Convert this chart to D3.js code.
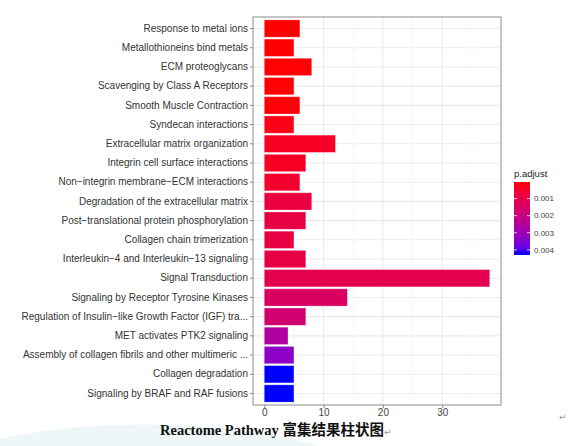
<!DOCTYPE html>
<html>
<head>
<meta charset="utf-8">
<script src="https://cdn.jsdelivr.net/npm/d3@7"></script>
<style>
  html, body { margin: 0; padding: 0; background: #fff; overflow: hidden; }
  .canvas { width: 569px; height: 446px; }
</style>
</head>
<body>
<div class="canvas"></div>
<script>
// pathways, top to bottom as in the figure
const pathways = [
  'Response to metal ions',
  'Metallothioneins bind metals',
  'ECM proteoglycans',
  'Scavenging by Class A Receptors',
  'Smooth Muscle Contraction',
  'Syndecan interactions',
  'Extracellular matrix organization',
  'Integrin cell surface interactions',
  'Non\u2212integrin membrane\u2212ECM interactions',
  'Degradation of the extracellular matrix',
  'Post\u2212translational protein phosphorylation',
  'Collagen chain trimerization',
  'Interleukin\u22124 and Interleukin\u221213 signaling',
  'Signal Transduction',
  'Signaling by Receptor Tyrosine Kinases',
  'Regulation of Insulin\u2212like Growth Factor (IGF) tra...',
  'MET activates PTK2 signaling',
  'Assembly of collagen fibrils and other multimeric ...',
  'Collagen degradation',
  'Signaling by BRAF and RAF fusions'
];
const geneCounts = [6, 5, 8, 5, 6, 5, 12, 7, 6, 8, 7, 5, 7, 38, 14, 7, 4, 5, 5, 5];
const pAdjust = [0.00003, 0.00003, 0.00005, 0.00005, 0.00008, 0.0002, 0.0004, 0.0004, 0.0005, 0.0008,
                 0.0009, 0.0009, 0.0009, 0.0011, 0.0014, 0.0017, 0.0026, 0.0033, 0.0043, 0.0043];
const xTicks = [0, 10, 20, 30];
const xMinor = [5, 15, 25, 35];
const legendTicks = [0.001, 0.002, 0.003, 0.004];

const dims = { width: 569, height: 446 };
const panel = { left: 253, right: 501, top: 17, bottom: 405 };

const svg = d3.select('.canvas')
  .append('svg')
  .attr('width', dims.width)
  .attr('height', dims.height)
  .style('display', 'block');

// word page background swoosh
svg.append('path')
  .attr('d', 'M0,446 L0,439 Q90,420 190,426 Q270,431 318,446 Z')
  .attr('fill', '#eef6f7');

const xMax = d3.max(geneCounts);
const x = d3.scaleLinear()
  .domain([-0.05 * xMax, 1.05 * xMax])
  .range([panel.left, panel.right]);

const y = d3.scaleBand()
  .domain(pathways)
  .range([panel.top, panel.bottom])
  .paddingInner(0.1)
  .paddingOuter(0.15);

const pExtent = d3.extent(pAdjust);
const color = d3.scaleLinear()
  .domain(pExtent)
  .range(['#ff0000', '#0000ff'])
  .interpolate(d3.interpolateLab);

const graph = svg.append('g').attr('class', 'graphGroup');

// grid
graph.selectAll('line.minor')
  .data(xMinor)
  .enter().append('line')
  .attr('x1', d => x(d)).attr('x2', d => x(d))
  .attr('y1', panel.top).attr('y2', panel.bottom)
  .attr('stroke', '#f2f2f2').attr('stroke-width', 0.6);

graph.selectAll('line.majorx')
  .data(xTicks)
  .enter().append('line')
  .attr('x1', d => x(d)).attr('x2', d => x(d))
  .attr('y1', panel.top).attr('y2', panel.bottom)
  .attr('stroke', '#ebebeb').attr('stroke-width', 1.1);

graph.selectAll('line.majory')
  .data(pathways)
  .enter().append('line')
  .attr('x1', panel.left).attr('x2', panel.right)
  .attr('y1', d => y(d) + y.bandwidth() / 2)
  .attr('y2', d => y(d) + y.bandwidth() / 2)
  .attr('stroke', '#ebebeb').attr('stroke-width', 1.1);

// bars
graph.selectAll('rect.bar')
  .data(pathways)
  .enter().append('rect')
  .attr('class', 'bar')
  .attr('x', x(0))
  .attr('y', d => y(d))
  .attr('width', (d, i) => x(geneCounts[i]) - x(0))
  .attr('height', y.bandwidth())
  .attr('fill', (d, i) => color(pAdjust[i]))
  .attr('stroke', '#fff')
  .attr('stroke-opacity', 0.35)
  .attr('stroke-width', 0.8);

// panel border
graph.append('rect')
  .attr('x', panel.left).attr('y', panel.top)
  .attr('width', panel.right - panel.left)
  .attr('height', panel.bottom - panel.top)
  .attr('fill', 'none')
  .attr('stroke', '#8c8c8c')
  .attr('stroke-width', 1);

// axes
const yAxis = svg.append('g')
  .attr('transform', `translate(${panel.left}, 0)`)
  .call(d3.axisLeft(y).tickSize(3).tickPadding(2));
yAxis.select('.domain').remove();
yAxis.selectAll('line').attr('stroke', '#8c8c8c');
yAxis.selectAll('text')
  .attr('fill', '#333')
  .style('font-family', '"Liberation Sans", Arial, sans-serif')
  .style('font-size', '10px');

const xAxis = svg.append('g')
  .attr('transform', `translate(0, ${panel.bottom})`)
  .call(d3.axisBottom(x).tickValues(xTicks).tickSize(3).tickPadding(1));
xAxis.select('.domain').remove();
xAxis.selectAll('line').attr('stroke', '#8c8c8c');
xAxis.selectAll('text')
  .attr('fill', '#444')
  .style('font-family', '"Liberation Sans", Arial, sans-serif')
  .style('font-size', '10px');

// legend (colour bar, low values on top)
const legend = { x: 514, top: 182, bottom: 255, width: 16 };
const defs = svg.append('defs');
const grad = defs.append('linearGradient')
  .attr('id', 'pgrad')
  .attr('x1', 0).attr('y1', 0).attr('x2', 0).attr('y2', 1);
d3.range(0, 1.0001, 0.1).forEach(t => {
  grad.append('stop')
    .attr('offset', t)
    .attr('stop-color', color(pExtent[0] + t * (pExtent[1] - pExtent[0])));
});

const legendGroup = svg.append('g').attr('class', 'legendGroup');
const ly = d3.scaleLinear().domain(pExtent).range([legend.top, legend.bottom]);

legendGroup.append('text')
  .attr('x', legend.x)
  .attr('y', 177)
  .attr('fill', '#222')
  .style('font-family', '"Liberation Sans", Arial, sans-serif')
  .style('font-size', '9.5px')
  .text('p.adjust');

legendGroup.append('rect')
  .attr('x', legend.x).attr('y', legend.top)
  .attr('width', legend.width).attr('height', legend.bottom - legend.top)
  .attr('fill', 'url(#pgrad)');

legendTicks.forEach(v => {
  legendGroup.append('line')
    .attr('x1', legend.x).attr('x2', legend.x + 3)
    .attr('y1', ly(v)).attr('y2', ly(v))
    .attr('stroke', '#fff').attr('stroke-width', 0.8);
  legendGroup.append('line')
    .attr('x1', legend.x + legend.width - 3).attr('x2', legend.x + legend.width)
    .attr('y1', ly(v)).attr('y2', ly(v))
    .attr('stroke', '#fff').attr('stroke-width', 0.8);
  legendGroup.append('text')
    .attr('x', legend.x + legend.width + 4)
    .attr('y', ly(v))
    .attr('dy', '0.35em')
    .attr('fill', '#444')
    .style('font-family', '"Liberation Sans", Arial, sans-serif')
    .style('font-size', '8px')
    .text(d3.format('.3f')(v));
});

// caption below the figure (document text)
const caption = svg.append('text')
  .attr('x', 160)
  .attr('y', 435)
  .attr('fill', '#111')
  .style('font-weight', 'bold')
  .style('font-size', '14.5px');
caption.append('tspan')
  .style('font-family', '"Liberation Serif", "Times New Roman", serif')
  .text('Reactome Pathway ');
caption.append('tspan')
  .style('font-family', '"Noto Sans CJK SC", sans-serif')
  .text('富集结果柱状图');
caption.append('tspan')
  .attr('fill', '#999')
  .style('font-weight', 'normal')
  .style('font-size', '9px')
  .style('font-family', '"DejaVu Sans", sans-serif')
  .text('\u21b5');

svg.append('text')
  .attr('x', 559).attr('y', 420)
  .attr('fill', '#999')
  .style('font-size', '9px')
  .style('font-family', '"DejaVu Sans", sans-serif')
  .text('\u21b5');

// next paragraph, cut off by the page edge
svg.append('text')
  .attr('x', 22).attr('y', 457.5)
  .attr('fill', '#333')
  .style('font-size', '14px')
  .style('font-family', '"Noto Sans CJK SC", sans-serif')
  .text('根据富集结果，差异基因主要富集于细胞外基质与信号转导相关通路。');
</script>
</body>
</html>
